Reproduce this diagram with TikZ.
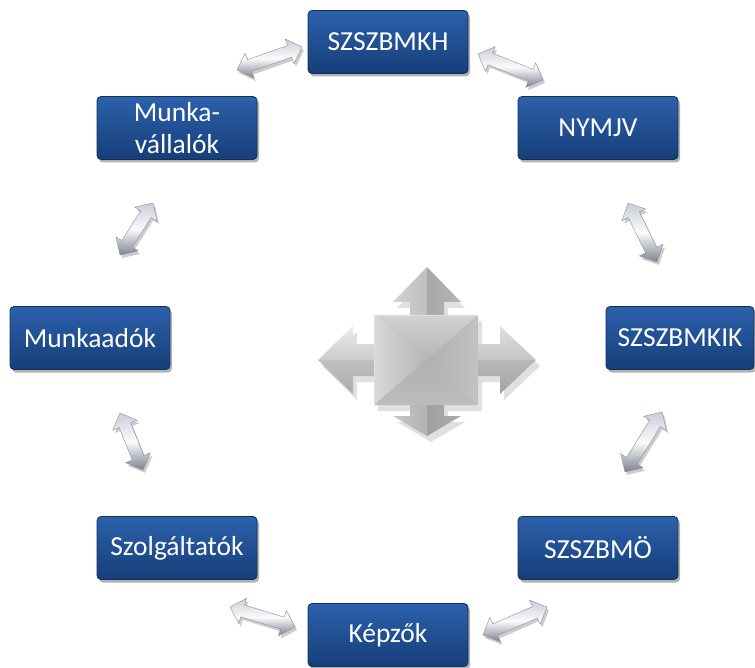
\documentclass[tikz,border=0pt]{standalone}
\usepackage{fontspec}
\setmainfont{Carlito}
\usetikzlibrary{shapes.arrows,shadows,calc}
\definecolor{boxtop}{HTML}{2C61AC}
\definecolor{boxbot}{HTML}{163E78}
\definecolor{boxedge}{HTML}{13305A}
\definecolor{arrlight}{HTML}{C9CDD8}
\definecolor{arrdark}{HTML}{7C8291}
\definecolor{arredge}{HTML}{8A909E}
\newcommand\dblarrow[2]{\path let \p1=($(#2)-(#1)$), \n1={atan2(\y1,\x1)}, \n2={veclen(\x1,\y1)} in node[dbl, minimum height=\n2, rotate=\n1] at ($(#1)!0.5!(#2)$) {};}
\begin{document}
\begin{tikzpicture}[x=1pt,y=-1pt,
  box/.style={rectangle, rounded corners=4pt, minimum width=160pt, minimum height=63pt,
    top color=boxtop, bottom color=boxbot, draw=boxedge, line width=0.8pt,
    text=white, font=\fontsize{27.5}{32}\selectfont, align=center, inner sep=0pt,
    drop shadow={opacity=0.3, shadow xshift=2pt, shadow yshift=-3pt, fill=black}},
  dbl/.style={double arrow, double arrow head extend=7pt, inner xsep=0pt, inner ysep=6pt,
    text height=0pt, text depth=0pt, minimum width=0pt,
    top color=arrlight, bottom color=arrdark, middle color=white!92!arrlight,
    draw=arredge, line width=0.4pt,
    drop shadow={opacity=0.2, shadow xshift=2pt, shadow yshift=-3pt, fill=black}},
  crossshadow/.style={fill=black, opacity=0.12}
]
\useasboundingbox (0,0) rectangle (755,668);
\fill[white] (0,0) rectangle (755,668);

% boxes
\node[box] (kh) at (388,42) {SZSZBMKH};
\node[box] (nymjv) at (598,128) {NYMJV};
\node[box, minimum width=148pt] (kik) at (680,338) {SZSZBMKIK};
\node[box] (mo) at (598,548) {SZSZBMÖ};
\node[box] (kep) at (388,635) {Képzők};
\node[box] (szolg) at (177,548) {Szolgáltatók};
\node[box] (madok) at (90,338) {Munkaadók};
\node[box] (mvall) at (177,128) {Munka-\\vállalók};

% arrow end points
\coordinate (a1) at (237,70);  \coordinate (a2) at (302,47);
\coordinate (b1) at (478,54);  \coordinate (b2) at (543,80);
\coordinate (c1) at (628,203); \coordinate (c2) at (657,262);
\coordinate (d1) at (662,412); \coordinate (d2) at (625,472);
\coordinate (e1) at (547,607); \coordinate (e2) at (483,635);
\coordinate (f1) at (295,627); \coordinate (f2) at (230,607);
\coordinate (g1) at (120,413); \coordinate (g2) at (143,470);
\coordinate (h1) at (153,203); \coordinate (h2) at (120,255);
\dblarrow{a1}{a2}
\dblarrow{b1}{b2}
\dblarrow{c1}{c2}
\dblarrow{d1}{d2}
\dblarrow{e1}{e2}
\dblarrow{f1}{f2}
\dblarrow{g1}{g2}
\dblarrow{h1}{h2}

% centre cross: shadow
\begin{scope}[shift={(4,6)}]
\fill[crossshadow] (374,315) -- (410,315) -- (410,302) -- (393,302) -- (427,267) -- (461,302) -- (444,302) -- (444,315)
  -- (478,315) -- (478,344) -- (500,344) -- (500,326) -- (536,360) -- (500,394) -- (500,376) -- (478,376)
  -- (478,405) -- (444,405) -- (444,416) -- (461,416) -- (427,436) -- (393,416) -- (410,416) -- (410,405)
  -- (374,405) -- (374,376) -- (353,376) -- (353,394) -- (318,360) -- (353,326) -- (353,344) -- (374,344) -- cycle;
\end{scope}
% left arrow
\shade[top color=gray!15, bottom color=gray!40] (377,344) -- (353,344) -- (353,326) -- (318,360) -- (377,360) -- cycle;
\shade[top color=gray!50, bottom color=gray!65] (377,360) -- (318,360) -- (353,394) -- (353,376) -- (377,376) -- cycle;
% right arrow
\shade[top color=gray!25, bottom color=gray!45] (475,344) -- (500,344) -- (500,326) -- (536,360) -- (475,360) -- cycle;
\shade[top color=gray!55, bottom color=gray!72] (475,360) -- (536,360) -- (500,394) -- (500,376) -- (475,376) -- cycle;
% top arrow
\shade[left color=gray!35, right color=gray!50] (410,318) -- (410,302) -- (393,302) -- (427,267) -- (427,318) -- cycle;
\shade[left color=gray!68, right color=gray!58] (427,318) -- (427,267) -- (461,302) -- (444,302) -- (444,318) -- cycle;
% bottom arrow
\shade[left color=gray!45, right color=gray!60] (410,402) -- (410,416) -- (393,416) -- (427,436) -- (427,402) -- cycle;
\shade[left color=gray!75, right color=gray!65] (427,402) -- (427,436) -- (461,416) -- (444,416) -- (444,402) -- cycle;
% square body
\shade[top color=gray!35, bottom color=gray!58] (374,315) -- (478,315) -- (426,360) -- cycle;
\shade[left color=gray!30, right color=gray!58] (374,315) -- (426,360) -- (374,405) -- cycle;
\shade[left color=gray!62, right color=gray!48] (478,315) -- (478,405) -- (426,360) -- cycle;
\shade[top color=gray!62, bottom color=gray!52] (374,405) -- (426,360) -- (478,405) -- cycle;
\draw[gray!25, line width=0.6pt] (374,405) -- (374,315) -- (478,315);
\end{tikzpicture}
\end{document}
